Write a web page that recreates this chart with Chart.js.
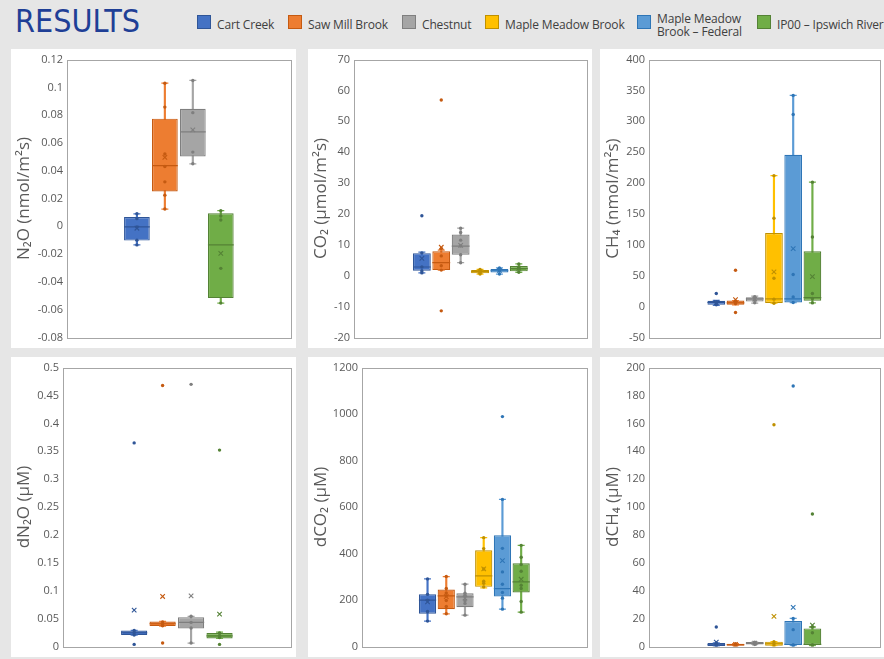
<!DOCTYPE html>
<html>
<head>
<meta charset="utf-8">
<script src="https://cdn.jsdelivr.net/npm/chart.js@4.4.0/dist/chart.umd.min.js"></script>
<style>
  body { margin: 0; width: 884px; height: 659px; background: #e6e6e6; position: relative; overflow: hidden; font-family: 'Open Sans', sans-serif; }
  #title { position: absolute; left: 15px; top: 2px; font-family: 'Liberation Sans Narrow', 'DejaVu Sans Condensed', sans-serif; font-size: 32px; color: #1f3f96; }
  .lg { position: absolute; font-size: 12px; color: #404040; line-height: 13px; white-space: nowrap; letter-spacing: -0.15px; }
  .sw { position: absolute; width: 12px; height: 12px; border: 1px solid; }
  .panel { position: absolute; background: #fff; }
  .panel canvas { display: block; }
</style>
</head>
<body>
<div id="title">RESULTS</div>
<div id="legend"></div>

<div class="panel" style="left:11px;top:49px"><canvas id="n2o" width="285" height="299"></canvas></div>
<div class="panel" style="left:308px;top:49px"><canvas id="co2" width="284" height="299"></canvas></div>
<div class="panel" style="left:600px;top:49px"><canvas id="ch4" width="285" height="299"></canvas></div>
<div class="panel" style="left:11px;top:357px"><canvas id="dn2o" width="285" height="300"></canvas></div>
<div class="panel" style="left:308px;top:357px"><canvas id="dco2" width="284" height="300"></canvas></div>
<div class="panel" style="left:600px;top:357px"><canvas id="dch4" width="285" height="300"></canvas></div>

<script>
const sites = ['Cart Creek', 'Saw Mill Brook', 'Chestnut', 'Maple Meadow Brook', 'Maple Meadow Brook – Federal', 'IP00 – Ipswich River'];
const fills = ['#4472C4', '#ED7D31', '#A5A5A5', '#FFC000', '#5B9BD5', '#70AD47'];
const edges = ['#2F5597', '#C55A11', '#7F7F7F', '#BF9000', '#2E75B6', '#548235'];

// each box row: [low whisker, q1, median, q3, high whisker]

// N2O flux (only 4 sites)
const n2oSites = [0, 1, 2, 5];
const n2oBox = [
  [-0.0134, -0.0103, -0.0005, 0.0067, 0.009],
  [0.0124, 0.025, 0.0436, 0.0775, 0.103],
  [0.045, 0.0503, 0.068, 0.0846, 0.105],
  [-0.0553, -0.0517, -0.0134, 0.0093, 0.0112]
];
const n2oMean = [-0.0014, 0.0496, 0.0694, -0.0195];
const n2oPts = [
  [0.009, 0.0055, -0.0005, -0.010, -0.0134],
  [0.103, 0.0858, 0.052, 0.043, 0.032, 0.0224, 0.0124],
  [0.105, 0.0818, 0.0534, 0.045],
  [0.0112, 0.0074, 0.0045, -0.0303, -0.0553]
];

// CO2 flux
const co2Sites = [0, 1, 2, 3, 4, 5];
const co2Box = [
  [0.9, 1.6, 2.8, 7.3, 7.6],
  [1.8, 1.8, 4.2, 7.9, 8.3],
  [4.2, 6.8, 9.6, 13.3, 15.4],
  [0.5, 0.75, 1.3, 1.8, 2.0],
  [0.5, 1.0, 1.6, 2.2, 2.5],
  [1.1, 1.4, 2.3, 3.1, 3.8]
];
const co2Mean = [5.6, 9.2, 9.8, 1.3, 1.7, 2.4];
const co2Pts = [
  [19.4, 7.4, 2.8, 1.5, 0.9],
  [56.9, 8.8, 6.4, 3.2, 1.8, -11.4],
  [15.4, 14.0, 11.5, 9.6, 6.8, 4.2],
  [2.0, 1.3, 0.5],
  [2.5, 1.6, 0.5],
  [3.8, 2.5, 1.1]
];

// CH4 flux
const ch4Sites = [0, 1, 2, 3, 4, 5];
const ch4Box = [
  [2, 2.7, 6.5, 9.2, 10],
  [2.7, 2.7, 5.9, 9.7, 9.7],
  [5.4, 8, 12.4, 15, 17],
  [5.4, 5.9, 12.4, 119, 212],
  [6.5, 6.5, 12.4, 245.7, 342],
  [5.9, 9.2, 14.5, 89.5, 201.5]
];
const ch4Mean = [6.5, 11.3, 12, 56, 93.8, 48.5];
const ch4Pts = [
  [21, 8, 3],
  [58.7, 9, 5, -9.7],
  [16, 10, 6],
  [212, 143, 45.8, 12, 5.4],
  [342, 311, 52, 15.6, 6.5],
  [201.5, 112.6, 21, 13, 5.9]
];

// dissolved N2O (only 4 sites)
const dn2oSites = [0, 1, 2, 5];
const dn2oBox = [
  [0.0203, 0.0203, 0.0245, 0.0286, 0.0286],
  [0.0364, 0.0364, 0.0406, 0.0447, 0.0447],
  [0.006, 0.0322, 0.043, 0.0525, 0.054],
  [0.0143, 0.0143, 0.019, 0.0239, 0.0257]
];
const dn2oMean = [0.065, 0.0895, 0.0907, 0.058];
const dn2oPts = [
  [0.365, 0.0286, 0.0245, 0.0203, 0.0036],
  [0.468, 0.044, 0.040, 0.037, 0.006],
  [0.470, 0.054, 0.043, 0.033, 0.006],
  [0.352, 0.024, 0.019, 0.016, 0.0036]
];

// dissolved CO2
const dco2Sites = [0, 1, 2, 3, 4, 5];
const dco2Box = [
  [108.8, 140.3, 199, 224.8, 290.6],
  [140.3, 160.3, 217.6, 244.8, 300.6],
  [134.6, 169, 213, 229, 267.7],
  [252, 256.3, 303.5, 413.7, 468],
  [160.3, 214.7, 249, 478, 632.8],
  [147.5, 232, 277.8, 358, 435]
];
const dco2Mean = [192, 214, 207.6, 333.6, 369, 289];
const dco2Pts = [
  [290.6, 224, 199, 150, 108.8],
  [300.6, 249, 230, 217.6, 197.6, 171.8, 140.3],
  [267.7, 229, 220, 197, 185, 134.6],
  [468, 420.9, 333, 280.6, 272, 256],
  [989, 632.8, 422, 320.7, 267.7, 232, 207.6, 160.3],
  [435, 383.7, 352, 323.6, 263.4, 249, 193.3, 147.5]
];

// dissolved CH4
const dch4Sites = [0, 1, 2, 3, 4, 5];
const dch4Box = [
  [0.2, 0.24, 1.2, 2.4, 2.6],
  [0.5, 0.5, 1.2, 1.9, 1.9],
  [1.4, 1.4, 2.4, 3.1, 3.1],
  [0.5, 0.5, 1.9, 3.4, 3.4],
  [0.5, 1.0, 1.5, 18.2, 20.1],
  [0.5, 1.0, 1.4, 12.9, 13.9]
];
const dch4Mean = [3.1, 1.4, 2.4, 21.6, 28, 15.3];
const dch4Pts = [
  [13.9, 2.4, 1.2, 0.3],
  [1.9, 1.2, 0.5],
  [3.1, 2.4, 1.4],
  [159, 3.4, 1.9, 0.5],
  [186.8, 20.1, 12, 1.0, 0.5],
  [95, 13.9, 9.8, 1.0, 0.5]
];

// legend (html, shared by all panels)
const legendLeft = [197, 288, 402, 485, 637, 757];
const legendHtml = sites.map((s, i) => {
  const two = s.indexOf('Federal') > 0;
  const txt = two ? 'Maple Meadow<br>Brook – Federal' : s;
  return `<div class="sw" style="left:${legendLeft[i]}px;top:15px;background:${fills[i]};border-color:${edges[i]}"></div>` +
    `<div class="lg" style="left:${legendLeft[i] + 20}px;top:${two ? 12 : 18}px">${txt}</div>`;
}).join('');
document.getElementById('legend').innerHTML = legendHtml;

const frame = {
  id: 'frame',
  beforeDatasetsDraw(chart) {
    const { ctx, chartArea: a } = chart;
    ctx.save();
    ctx.strokeStyle = '#a6a6a6';
    ctx.lineWidth = 1;
    ctx.strokeRect(Math.round(a.left) + 0.5, Math.round(a.top) + 0.5, Math.round(a.width), Math.round(a.height));
    ctx.restore();
  }
};

function halfBox(ctx) {
  const x = ctx.chart.scales.x;
  return Math.abs(x.getPixelForValue(1) - x.getPixelForValue(0)) * 0.46;
}

function boxplot(id, idx, box, mean, pts, y, title, axisW) {
  const n = idx.length;
  const xs = idx.map((_, i) => i + 1);
  const col = idx.map(k => fills[k]);
  const dark = idx.map(k => edges[k]);
  const flat = [], flatCol = [];
  pts.forEach((arr, i) => arr.forEach(v => { flat.push({ x: xs[i], y: v }); flatCol.push(dark[i]); }));
  const caps = [], capCol = [];
  box.forEach((b, i) => { caps.push({ x: xs[i], y: b[0] }, { x: xs[i], y: b[4] }); capCol.push(col[i], col[i]); });

  return new Chart(document.getElementById(id), {
    type: 'bar',
    data: {
      datasets: [
        { // whiskers
          data: box.map((b, i) => ({ x: xs[i], y: [b[0], b[4]] })),
          backgroundColor: col, barThickness: 1.5, grouped: false, order: 6
        },
        { // boxes q1..q3
          data: box.map((b, i) => ({ x: xs[i], y: [b[1], b[3]] })),
          backgroundColor: col, borderColor: dark, borderWidth: 1.2, borderSkipped: false,
          grouped: false, categoryPercentage: 1, barPercentage: 0.92, order: 5
        },
        { // whisker caps
          type: 'scatter', data: caps, pointStyle: 'line', radius: 3.5,
          borderColor: capCol, borderWidth: 1.3, order: 4
        },
        { // medians
          type: 'scatter', data: box.map((b, i) => ({ x: xs[i], y: b[2] })),
          pointStyle: 'line', radius: halfBox, borderColor: dark, borderWidth: 1.2, order: 3
        },
        { // data points
          type: 'scatter', data: flat, pointStyle: 'circle', radius: 1.7,
          backgroundColor: flatCol, borderWidth: 0, order: 2
        },
        { // means
          type: 'scatter', data: mean.map((m, i) => ({ x: xs[i], y: m })),
          pointStyle: 'crossRot', radius: 3.2, borderColor: dark, borderWidth: 1.1, order: 1
        }
      ]
    },
    options: {
      responsive: false,
      animation: false,
      events: [],
      layout: { padding: { left: 0, top: 10, right: 3, bottom: 10 } },
      plugins: { legend: { display: false }, tooltip: { enabled: false } },
      scales: {
        x: {
          type: 'linear', display: false, offset: false,
          min: (n + 1) / 2 - n, max: (n + 1) / 2 + n,
          ticks: { stepSize: 100 }
        },
        y: {
          min: y[0], max: y[1],
          afterFit: s => { s.width = axisW; },
          grid: { display: false, drawTicks: false },
          border: { display: false },
          ticks: {
            stepSize: y[2], padding: 4, color: '#595959',
            font: { family: 'Open Sans', size: 11 },
            callback: v => String(Math.round(v * 1000) / 1000)
          },
          title: {
            display: true, text: title, color: '#595959',
            font: { family: 'Open Sans', size: 17 },
            padding: { top: 3, bottom: 0 }
          }
        }
      }
    },
    plugins: [frame]
  });
}

boxplot('n2o', n2oSites, n2oBox, n2oMean, n2oPts, [-0.08, 0.12, 0.02], 'N₂O (nmol/m²s)', 56);
boxplot('co2', co2Sites, co2Box, co2Mean, co2Pts, [-20, 70, 10], 'CO₂ (µmol/m²s)', 46);
boxplot('ch4', ch4Sites, ch4Box, ch4Mean, ch4Pts, [-50, 400, 50], 'CH₄ (nmol/m²s)', 49);
boxplot('dn2o', dn2oSites, dn2oBox, dn2oMean, dn2oPts, [0, 0.5, 0.05], 'dN₂O (µM)', 52);
boxplot('dco2', dco2Sites, dco2Box, dco2Mean, dco2Pts, [0, 1200, 200], 'dCO₂ (µM)', 54);
boxplot('dch4', dch4Sites, dch4Box, dch4Mean, dch4Pts, [0, 200, 20], 'dCH₄ (µM)', 49);
</script>
</body>
</html>
